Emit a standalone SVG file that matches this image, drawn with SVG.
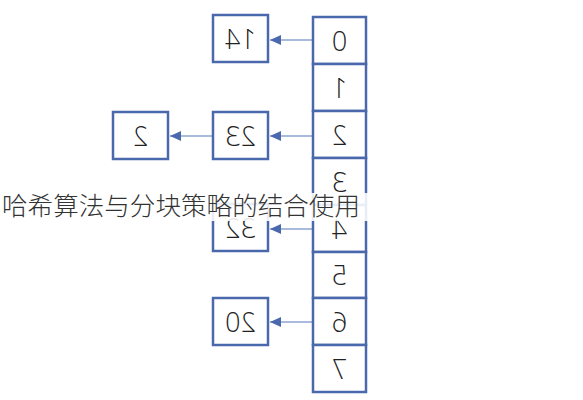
<svg xmlns="http://www.w3.org/2000/svg" width="583" height="400" viewBox="0 0 583 400">
<style>
.box{fill:#fff;stroke:#4a69ad;stroke-width:2.5}
.num{font-family:"Open Sans","Liberation Sans",sans-serif;font-size:27px;font-weight:300;fill:#222;text-anchor:middle}
.link{stroke:#8ea3d0;stroke-width:1.5;fill:none}
.cap{font-family:"Noto Sans CJK SC",sans-serif;font-size:25px;font-weight:300;fill:#333}
</style>
<defs>
<marker id="ah" markerWidth="11" markerHeight="10" refX="11" refY="5" orient="auto" markerUnits="userSpaceOnUse">
<path d="M0,0 L11,5 L0,10 Z" fill="#4a69ad"/>
</marker>
</defs>
<rect width="583" height="400" fill="#fff"/>
<g id="connectors">
<line class="link" x1="312" y1="40" x2="270" y2="40" marker-end="url(#ah)"/>
<line class="link" x1="312" y1="136" x2="270" y2="136" marker-end="url(#ah)"/>
<line class="link" x1="213" y1="136" x2="170" y2="136" marker-end="url(#ah)"/>
<line class="link" x1="312" y1="229" x2="270" y2="229" marker-end="url(#ah)"/>
<line class="link" x1="312" y1="322" x2="270" y2="322" marker-end="url(#ah)"/>
</g>
<g id="table">
<g id="cell0"><rect class="box" x="313" y="17" width="53" height="47"/><text class="num" transform="translate(339.5,50.5) scale(-1,1)">0</text></g>
<g id="cell1"><rect class="box" x="313" y="64" width="53" height="47"/><text class="num" transform="translate(339.5,97.5) scale(-1,1)">1</text></g>
<g id="cell2"><rect class="box" x="313" y="111" width="53" height="47"/><text class="num" transform="translate(339.5,144.5) scale(-1,1)">2</text></g>
<g id="cell3"><rect class="box" x="313" y="158" width="53" height="47"/><text class="num" transform="translate(339.5,191.5) scale(-1,1)">3</text></g>
<g id="cell4"><rect class="box" x="313" y="205" width="53" height="47"/><text class="num" transform="translate(339.5,238.5) scale(-1,1)">4</text></g>
<g id="cell5"><rect class="box" x="313" y="252" width="53" height="46"/><text class="num" transform="translate(339.5,285) scale(-1,1)">5</text></g>
<g id="cell6"><rect class="box" x="313" y="298" width="53" height="47"/><text class="num" transform="translate(339.5,331.5) scale(-1,1)">6</text></g>
<g id="cell7"><rect class="box" x="313" y="345" width="53" height="47"/><text class="num" transform="translate(339.5,378.5) scale(-1,1)">7</text></g>
</g>
<g id="n14"><rect class="box" x="213" y="15" width="55" height="47"/><text class="num" transform="translate(240.5,48.5) scale(-1,1)">14</text></g>
<g id="n23"><rect class="box" x="213" y="112" width="55" height="47"/><text class="num" transform="translate(240.5,145.5) scale(-1,1)">23</text></g>
<g id="n2"><rect class="box" x="113" y="112" width="55" height="47"/><text class="num" transform="translate(140.5,145.5) scale(-1,1)">2</text></g>
<g id="n32"><rect class="box" x="213" y="204" width="55" height="47"/><text class="num" transform="translate(240.5,237.5) scale(-1,1)">32</text></g>
<g id="n20"><rect class="box" x="213" y="298" width="55" height="47"/><text class="num" transform="translate(240.5,331.5) scale(-1,1)">20</text></g>
<g id="caption">
<rect x="0" y="193" width="371" height="28" fill="#fff" fill-opacity="0.88"/>
<text class="cap" x="2" y="215" textLength="358" lengthAdjust="spacingAndGlyphs">哈希算法与分块策略的结合使用</text>
</g>
</svg>
